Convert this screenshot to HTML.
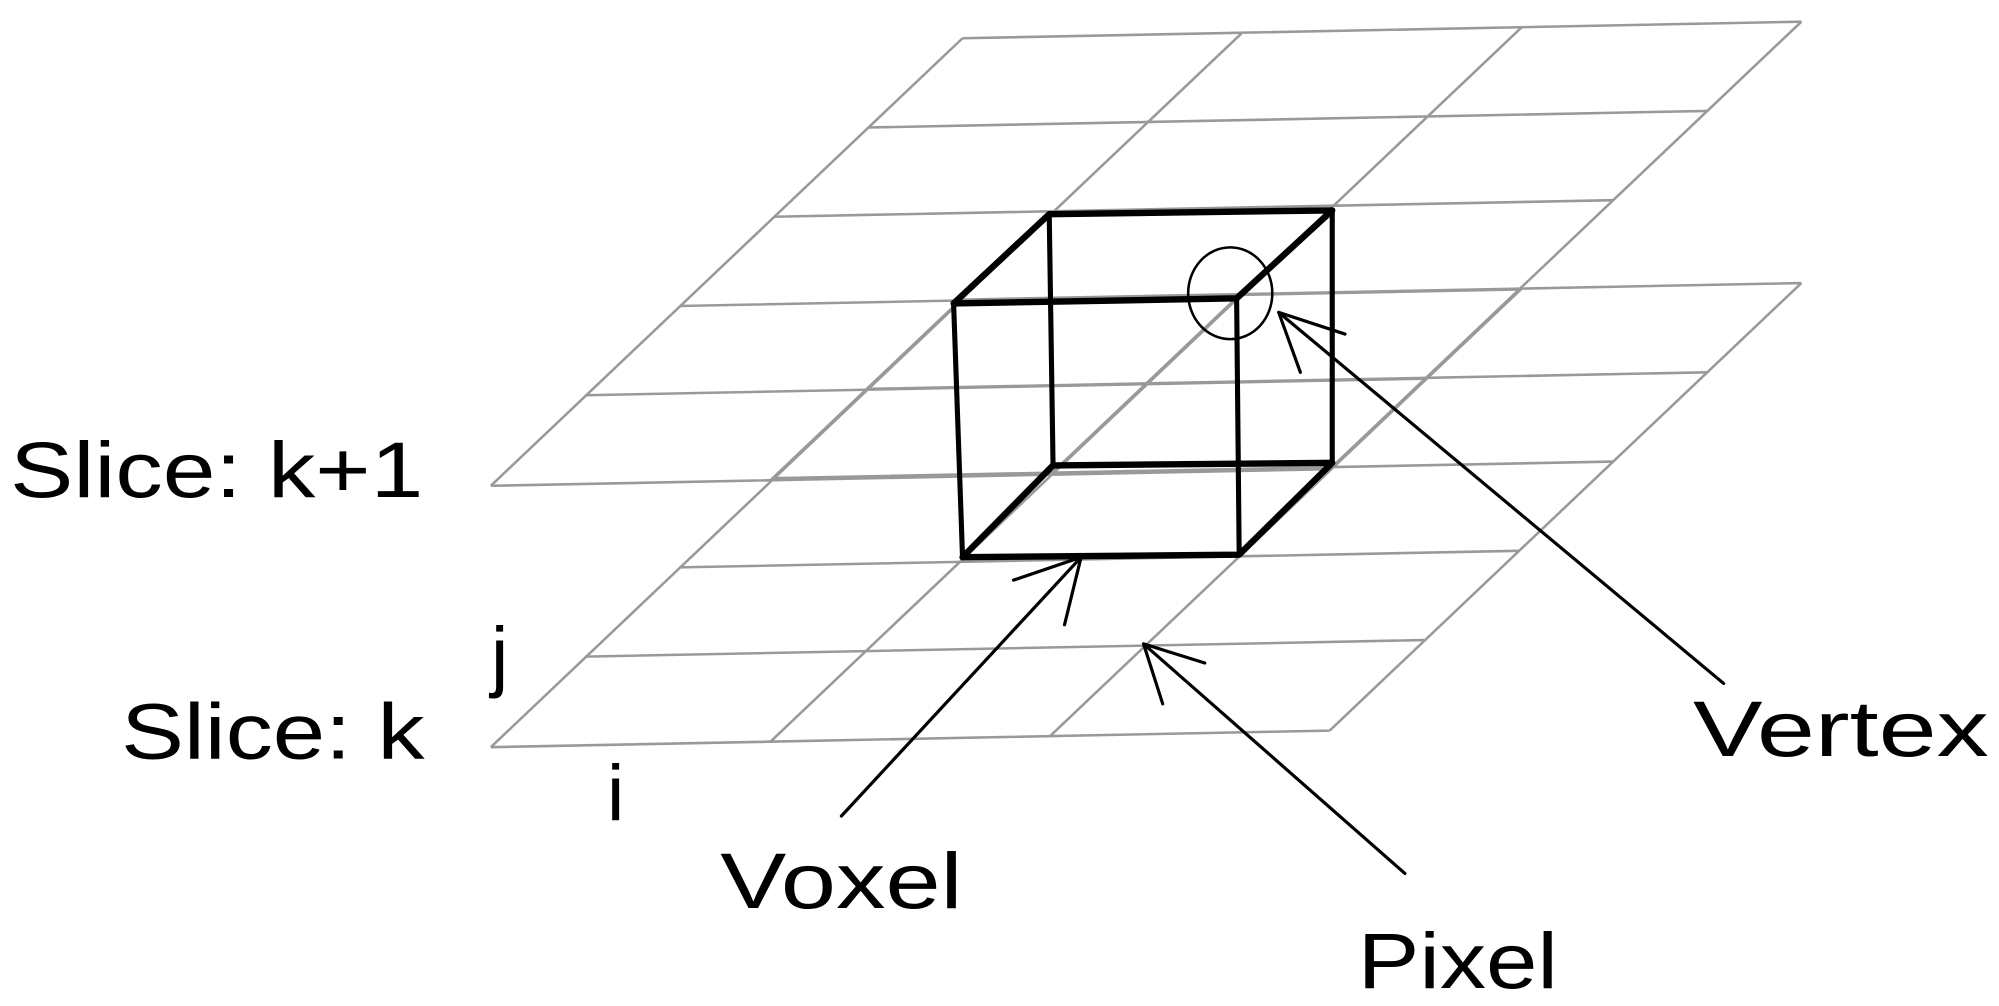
<!DOCTYPE html>
<html><head><style>html,body{margin:0;padding:0;background:#fff}svg{display:block}</style></head>
<body>
<svg width="1999" height="1006" viewBox="0 0 1568 789" preserveAspectRatio="none" xmlns="http://www.w3.org/2000/svg">
<defs>
<g id="plane" stroke="#999" stroke-width="2" fill="none">
  <path d="M755,30 L1413,17 M681,100 L1339,87 M607,170 L1265,157 M533,240 L1191,227 M459,310 L1117,297 M385,381 L1043,368"/>
  <path d="M755,30 L385,381 M974,26 L604,377 M1194,21 L824,372 M1413,17 L1043,368"/>
</g>
</defs>
<use href="#plane"/>
<use href="#plane" transform="translate(0,205)"/>
<g stroke="#000" fill="none" stroke-linecap="round" stroke-linejoin="round">
  <path stroke-width="5" d="M823,168 L1045,165 L970,234 L748,238 Z"/>
  <path stroke-width="4" d="M748,238 L755,437 M970,234 L972,435 M823,168 L826,365 M1045,165 L1045,363"/>
  <path stroke-width="5" d="M755,437 L972,435 L1045,363 L826,365 Z"/>
  <ellipse cx="965" cy="230" rx="33" ry="36" stroke-width="2"/>
  <path stroke-width="2.5" d="M1352,536 L1003,245 M1003,245 L1055,262 M1003,245 L1020,292"/>
  <path stroke-width="2.5" d="M660,640 L848,437 M848,437 L795,455 M848,437 L835,490"/>
  <path stroke-width="2.5" d="M1102,685 L897,505 M897,505 L945,520 M897,505 L912,552"/>
</g>
<g font-family="Liberation Sans Narrow, Liberation Sans, sans-serif" font-size="62" fill="#000">
  <text x="8" y="390" textLength="324" lengthAdjust="spacingAndGlyphs">Slice: k+1</text>
  <text x="95" y="595" textLength="238" lengthAdjust="spacingAndGlyphs">Slice: k</text>
  <text x="385" y="535">j</text>
  <text x="476" y="643">i</text>
  <text x="565" y="712" textLength="190" lengthAdjust="spacingAndGlyphs">Voxel</text>
  <text x="1065" y="775" textLength="157" lengthAdjust="spacingAndGlyphs">Pixel</text>
  <text x="1328" y="593" textLength="232" lengthAdjust="spacingAndGlyphs">Vertex</text>
</g>
</svg>
</body></html>
